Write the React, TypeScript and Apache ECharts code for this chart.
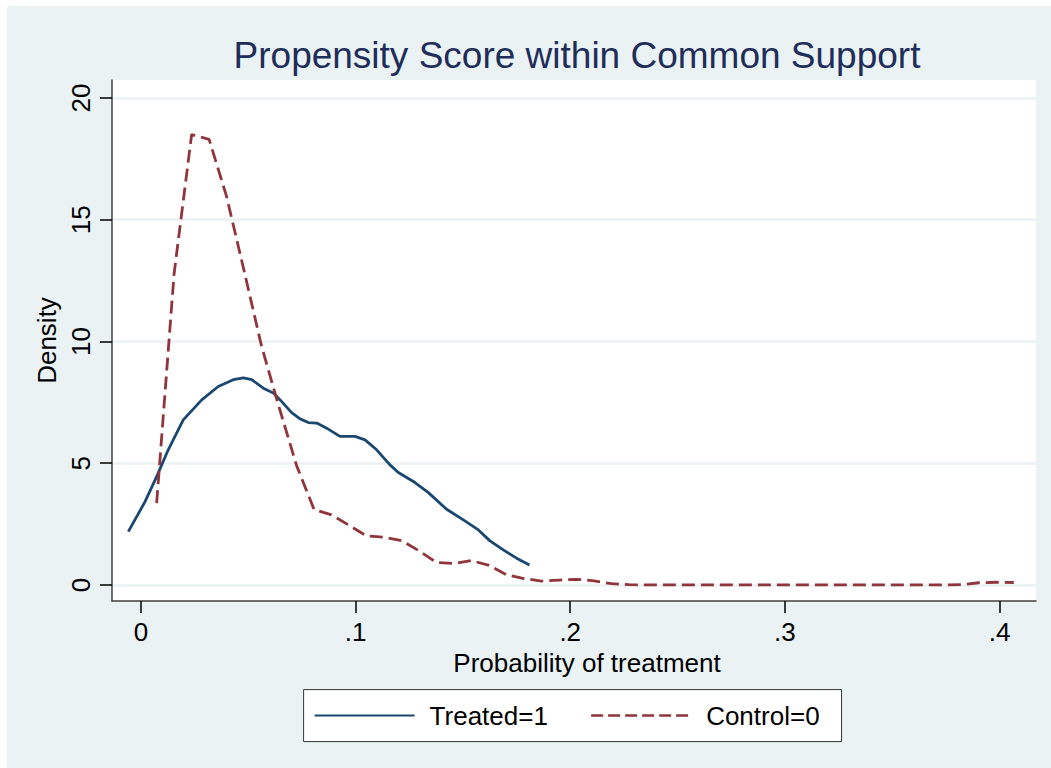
import React, { useEffect, useRef } from "react";
import * as echarts from "echarts";

const titleText = "Propensity Score within Common Support";
const xAxisTitle = "Probability of treatment";
const yAxisTitle = "Density";
const seriesNames = ["Treated=1", "Control=0"];

const xTicks = [0, 0.1, 0.2, 0.3, 0.4];
const yTicks = [0, 5, 10, 15, 20];

const treatedX = [
  -0.0059, 0.0019, 0.0073, 0.0127, 0.0197, 0.0283, 0.036, 0.043, 0.0477, 0.0516,
  0.057, 0.0617, 0.0656, 0.0702, 0.0741, 0.078, 0.0819, 0.0865, 0.0927, 0.0997,
  0.1044, 0.1098, 0.116, 0.1199, 0.1269, 0.1339, 0.1424, 0.1502, 0.1572, 0.1626,
  0.1688, 0.175, 0.181,
];
const treatedY = [
  2.19, 3.42, 4.45, 5.55, 6.78, 7.6, 8.15, 8.43, 8.5, 8.43,
  8.08, 7.88, 7.53, 7.08, 6.82, 6.67, 6.65, 6.44, 6.1, 6.1,
  5.96, 5.55, 4.93, 4.62, 4.25, 3.79, 3.11, 2.67, 2.26, 1.81,
  1.44, 1.1, 0.82,
];

const controlX = [
  0.0073, 0.01545, 0.0236, 0.03175, 0.0399, 0.04805, 0.0562, 0.06435, 0.0725, 0.08065,
  0.0888, 0.09695, 0.1051, 0.11325, 0.1214, 0.12955, 0.1377, 0.14585, 0.154, 0.16215,
  0.1703, 0.17845, 0.1866, 0.19475, 0.2029, 0.21105, 0.2192, 0.22735, 0.2355, 0.24365,
  0.2518, 0.25995, 0.2681, 0.27625, 0.2844, 0.29255, 0.3007, 0.30885, 0.317, 0.32515,
  0.3333, 0.34145, 0.3496, 0.35775, 0.3659, 0.37405, 0.3822, 0.39035, 0.3985, 0.40665,
];
const controlY = [
  3.36, 12.8, 18.5, 18.3, 15.95, 12.9, 9.8, 7.3, 4.9, 3.1,
  2.88, 2.45, 2.01, 1.96, 1.82, 1.4, 0.92, 0.88, 1.0, 0.8,
  0.42, 0.26, 0.16, 0.2, 0.23, 0.17, 0.05, 0.01, 0.0, 0.0,
  0.0, 0.0, 0.0, 0.0, 0.0, 0.0, 0.0, 0.0, 0.0, 0.0,
  0.0, 0.0, 0.0, 0.0, 0.0, 0.0, 0.01, 0.09, 0.11, 0.1,
];

const FONT = "'Liberation Sans', Arial, Helvetica, sans-serif";
const BG = "#EAF2F3";

export default function App() {
  const ref = useRef<HTMLDivElement>(null);
  useEffect(() => {
    const chart = echarts.init(ref.current!, null, { renderer: "svg" });
    chart.setOption({
      animation: false,
      backgroundColor: BG,
      textStyle: { fontFamily: FONT },
      graphic: [
        {
          type: "text",
          x: 570,
          y: 49,
          style: {
            text: titleText,
            fill: "#1f2d5a",
            font: `37px ${FONT}`,
            textAlign: "center",
            textVerticalAlign: "middle",
          },
        },
      ],
      grid: {
        left: 105,
        top: 74,
        right: 15,
        bottom: 167,
        show: true,
        backgroundColor: "#ffffff",
        borderWidth: 0,
      },
      legend: {
        data: [
          { name: seriesNames[0] },
          { name: seriesNames[1], lineStyle: { type: [12, 5], width: 2.5 } },
        ],
        left: 296.6,
        top: 683.6,
        orient: "horizontal",
        itemWidth: 100,
        itemHeight: 26,
        itemGap: 42,
        padding: [13, 22, 13, 10],
        backgroundColor: "#ffffff",
        borderColor: "#333333",
        borderWidth: 1,
        borderRadius: 0,
        itemStyle: { color: "transparent", borderColor: "transparent", borderWidth: 0, opacity: 0 },
        textStyle: { fontSize: 26, color: "#000000", fontFamily: FONT, padding: [0, 0, 0, 10] },
      },
      xAxis: {
        type: "value",
        min: -0.0135,
        max: 0.417,
        name: xAxisTitle,
        nameLocation: "middle",
        nameGap: 43,
        nameTextStyle: { fontSize: 26, color: "#000000", fontFamily: FONT, padding: [0, 0, 0, 26] },
        axisLine: { show: true, onZero: false, lineStyle: { color: "#404040", width: 1.5 } },
        axisTick: { show: true, length: 12, lineStyle: { color: "#000000", width: 1.5 }, customValues: xTicks },
        axisLabel: {
          customValues: xTicks,
          fontSize: 26,
          color: "#000000",
          margin: 18,
          formatter: (v: number) => (v === 0 ? "0" : String(v).replace(/^0\./, ".")),
        },
        splitLine: { show: false },
      },
      yAxis: {
        type: "value",
        min: -0.66,
        max: 20.74,
        name: yAxisTitle,
        nameLocation: "middle",
        nameRotate: 90,
        nameGap: 47,
        nameTextStyle: { fontSize: 26, color: "#000000", fontFamily: FONT },
        axisLine: { show: true, onZero: false, lineStyle: { color: "#404040", width: 1.5 } },
        axisTick: { show: true, length: 12, lineStyle: { color: "#000000", width: 1.5 }, customValues: yTicks },
        axisLabel: {
          customValues: yTicks,
          rotate: 90,
          fontSize: 26,
          color: "#000000",
          margin: 18,
        },
        splitLine: { show: true, lineStyle: { color: BG, width: 2.5 } },
      },
      series: [
        {
          type: "line",
          name: seriesNames[0],
          data: treatedX.map((x, i) => [x, treatedY[i]]),
          showSymbol: false,
          symbol: "none",
          lineStyle: { color: "#1a476f", width: 2.8 },
          itemStyle: { color: "#1a476f" },
          z: 3,
        },
        {
          type: "line",
          name: seriesNames[1],
          data: controlX.map((x, i) => [x, controlY[i]]),
          showSymbol: false,
          symbol: "none",
          lineStyle: { color: "#90353b", width: 2.8, type: [13, 6] },
          itemStyle: { color: "#90353b" },
          z: 3,
        },
      ],
    });
    return () => chart.dispose();
  }, []);
  return (
    <div
      ref={ref}
      style={{ position: "absolute", left: 7, top: 6, width: 1044, height: 762 }}
    />
  );
}
